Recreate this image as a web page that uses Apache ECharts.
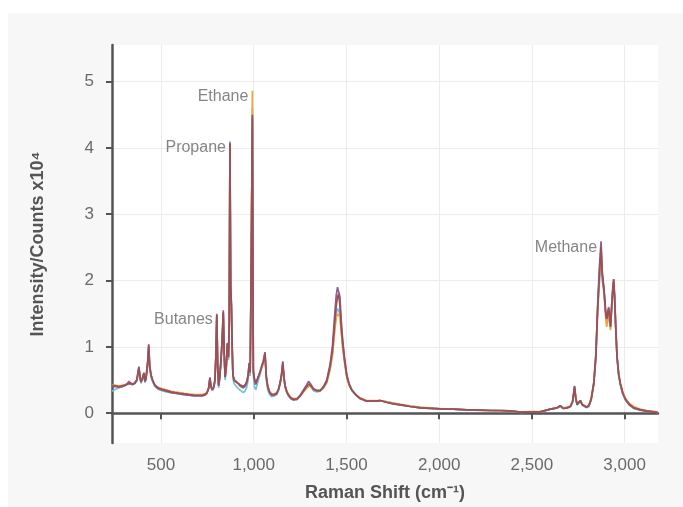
<!DOCTYPE html>
<html>
<head>
<meta charset="utf-8">
<script src="https://cdn.jsdelivr.net/npm/echarts@6/dist/echarts.min.js"></script>
<style>
html,body{margin:0;padding:0;background:#fff;}
#wrap{position:absolute;left:8px;top:13px;width:675px;height:494px;background:#f7f7f7;}
#chart{width:675px;height:494px;}
</style>
</head>
<body>
<div id="wrap"><div id="chart"></div></div>
<script>
// Raman shift (cm^-1)
const shift = [
236,255,273,290,306,318,327,336,343,352,
360,370,381,387,392,400,408,414,419,424,
429,434,439,446,455,468,485,505,530,555,
576,600,625,651,680,700,721,735,748,757,
764,770,777,785,791,796,801,806,811,817,
824,830,836,841,846,852,858,864,868,872,
876,880,884,888,895,905,917,930,944,955,
963,970,976,981,986,993,998,1004,1011,1018,
1025,1034,1043,1052,1061,1068,1076,1086,1097,1110,
1124,1134,1142,1150,1157,1163,1169,1178,1187,1200,
1214,1232,1250,1268,1286,1296,1304,1312,1322,1340,
1358,1376,1394,1412,1425,1435,1445,1452,1458,1465,
1472,1480,1490,1502,1515,1529,1550,1574,1610,1650,
1682,1720,1754,1800,1844,1900,2000,2075,2150,2220,
2276,2330,2380,2390,2440,2492,2545,2555,2600,2636,
2654,2669,2690,2708,2720,2730,2737,2744,2753,2762,
2771,2780,2795,2807,2820,2834,2845,2855,2864,2873,
2879,2885,2891,2897,2903,2909,2914,2919,2924,2930,
2936,2941,2946,2952,2959,2968,2977,2990,3004,3025,
3049,3085,3121,3150,3178];

// Intensity (counts x10^4) for each overlaid spectrum
const brown = [
.42,.41,.40,.41,.42,.44,.47,.45,.43,.44,
.45,.50,.69,.55,.47,.52,.60,.48,.52,.65,
.78,1.02,.72,.58,.50,.42,.38,.36,.34,.32,
.31,.30,.29,.28,.27,.27,.27,.28,.31,.38,
.53,.40,.36,.40,.50,.85,1.48,.70,.42,.55,
.82,1.10,1.53,.90,.55,.70,1.05,.85,1.30,4.06,
1.90,1.62,1.00,.58,.50,.48,.45,.42,.40,.43,
.48,.58,.76,.62,2.00,4.50,.65,.52,.45,.50,
.55,.62,.70,.78,.90,.55,.40,.32,.28,.28,
.30,.36,.45,.58,.76,.55,.42,.33,.28,.23,
.21,.21,.26,.33,.40,.44,.46,.40,.36,.34,
.34,.39,.48,.70,.95,1.30,1.62,1.75,1.80,1.62,
1.32,1.05,.80,.56,.43,.35,.28,.22,.18,.18,
.19,.16,.14,.12,.10,.08,.065,.06,.05,.045,
.04,.04,.035,.015,.015,.02,.02,.05,.06,.08,
.11,.07,.08,.10,.18,.40,.22,.13,.15,.19,
.13,.10,.09,.11,.21,.45,.85,1.60,2.10,2.50,
2.10,1.95,1.78,1.55,1.42,1.50,1.58,1.45,1.32,1.60,
1.85,2.00,1.75,1.30,.85,.58,.44,.30,.21,.13,
.08,.05,.03,.02,.01];

const purple = [
.40,.40,.39,.40,.42,.44,.48,.45,.43,.44,
.45,.51,.70,.55,.47,.53,.61,.48,.52,.66,
.80,1.04,.72,.58,.49,.41,.37,.35,.33,.31,
.30,.29,.28,.27,.26,.26,.26,.27,.30,.38,
.54,.40,.35,.39,.50,.86,1.50,.70,.41,.55,
.83,1.12,1.55,.90,.54,.70,1.06,.84,1.30,4.08,
1.92,1.64,1.00,.57,.49,.47,.44,.40,.38,.41,
.46,.56,.75,.61,2.02,4.45,.62,.50,.43,.49,
.55,.62,.71,.79,.92,.55,.39,.31,.27,.27,
.29,.36,.45,.58,.78,.55,.41,.32,.27,.22,
.20,.21,.27,.35,.43,.48,.51,.42,.37,.34,
.34,.40,.50,.74,1.02,1.42,1.78,1.90,1.93,1.75,
1.40,1.10,.83,.58,.44,.35,.28,.22,.18,.18,
.19,.16,.14,.12,.10,.08,.065,.06,.05,.045,
.04,.04,.035,.015,.015,.02,.02,.05,.06,.08,
.11,.07,.08,.10,.18,.41,.22,.13,.15,.19,
.13,.10,.09,.11,.21,.46,.88,1.65,2.20,2.59,
2.15,1.98,1.80,1.56,1.42,1.52,1.60,1.45,1.30,1.62,
1.88,2.02,1.76,1.30,.85,.58,.44,.30,.21,.13,
.08,.05,.03,.02,.01];

const cyan = [
.33,.36,.38,.40,.41,.43,.46,.44,.42,.43,
.44,.48,.66,.52,.45,.50,.57,.46,.50,.62,
.74,.98,.68,.55,.47,.40,.36,.34,.32,.31,
.30,.29,.28,.27,.26,.26,.26,.27,.30,.37,
.51,.38,.34,.38,.48,.82,1.45,.66,.38,.52,
.78,1.05,1.50,.84,.50,.66,1.00,.80,1.28,4.10,
1.85,1.55,.92,.52,.44,.41,.37,.34,.31,.34,
.40,.50,.70,.56,1.95,4.60,.58,.40,.35,.42,
.50,.58,.68,.76,.88,.50,.35,.28,.25,.26,
.28,.34,.43,.56,.74,.52,.39,.31,.26,.22,
.20,.20,.25,.32,.38,.41,.42,.38,.34,.32,
.33,.38,.46,.67,.90,1.22,1.50,1.58,1.60,1.50,
1.25,1.00,.78,.55,.42,.34,.27,.22,.18,.18,
.19,.17,.15,.12,.10,.08,.07,.06,.05,.04,
.04,.035,.03,.01,.01,.015,.015,.045,.06,.08,
.10,.07,.08,.10,.17,.38,.21,.12,.14,.18,
.12,.09,.08,.10,.20,.43,.82,1.52,1.95,2.30,
2.00,1.90,1.72,1.50,1.36,1.45,1.52,1.40,1.28,1.55,
1.80,1.95,1.72,1.28,.84,.57,.43,.29,.20,.12,
.07,.04,.03,.02,.01];

const orange = [
.43,.42,.41,.42,.43,.44,.46,.45,.43,.44,
.45,.49,.66,.54,.47,.51,.58,.48,.52,.63,
.75,.98,.70,.57,.50,.42,.39,.37,.35,.33,
.32,.31,.30,.29,.28,.28,.28,.29,.31,.37,
.50,.40,.36,.40,.49,.82,1.45,.68,.42,.54,
.80,1.06,1.48,.88,.55,.68,1.02,.83,1.26,4.02,
1.85,1.58,.98,.58,.50,.48,.45,.42,.40,.43,
.47,.57,.74,.61,2.10,4.86,.64,.52,.45,.50,
.55,.61,.68,.76,.86,.54,.40,.32,.29,.29,
.31,.36,.44,.56,.72,.53,.41,.33,.28,.24,
.22,.22,.26,.32,.38,.41,.42,.38,.35,.34,
.34,.38,.46,.66,.88,1.18,1.44,1.50,1.52,1.45,
1.22,.98,.76,.54,.42,.35,.28,.23,.19,.19,
.19,.17,.15,.13,.11,.09,.07,.06,.05,.045,
.04,.04,.035,.02,.02,.025,.025,.05,.06,.08,
.11,.08,.09,.11,.18,.38,.22,.14,.15,.19,
.13,.11,.10,.12,.23,.48,.90,1.62,2.05,2.42,
2.08,1.95,1.74,1.48,1.30,1.40,1.52,1.38,1.25,1.58,
1.86,2.02,1.78,1.34,.88,.60,.46,.32,.23,.15,
.10,.06,.04,.03,.02];

// Peak annotations
const peakNames = ['Butanes','Propane','Ethane','Methane'];
const peakX = [801, 872, 993, 2873];
const peakY = [1.50, 4.10, 4.86, 2.59];

// Axis ticks
const xTicks = [500,1000,1500,2000,2500,3000];
const yTicks = [0,1,2,3,4,5];

const pairs = ys => shift.map((x,i)=>[x, ys[i]]);
const spectra = [
  {name:'cyan', data:cyan, color:'#6fc4d8'},
  {name:'orange', data:orange, color:'#f2a43a'},
  {name:'purple', data:purple, color:'#8e5f90'},
  {name:'brown', data:brown, color:'#9b5057'}
];

const chart = echarts.init(document.getElementById('chart'), null, {renderer:'canvas'});
const axisCol = '#545454';
chart.setOption({
  animation:false,
  backgroundColor:'#f7f7f7',
  grid:{left:104, right:25, top:32, bottom:60, show:true, backgroundColor:'#ffffff', borderWidth:0},
  xAxis:{
    type:'value', min:236, max:3180,
    name:'Raman Shift (cm\u207B\u00B9)', nameLocation:'middle', nameGap:41,
    nameTextStyle:{fontSize:18, fontWeight:'bold', color:'#555', fontFamily:'Liberation Sans'},
    axisLine:{show:true, lineStyle:{color:axisCol, width:2.5}},
    axisTick:{show:true, length:6, customValues:xTicks, lineStyle:{color:axisCol, width:2}},
    axisLabel:{customValues:xTicks, fontSize:17, color:'#6a6a6a', margin:14, fontFamily:'Liberation Sans',
      formatter:v=>Number(v).toLocaleString('en-US')},
    splitLine:{show:true, lineStyle:{color:'#ececec', width:1}}
  },
  yAxis:{
    type:'value', min:-0.45, max:5.55,
    name:'Intensity/Counts x10\u2074', nameLocation:'middle', nameGap:65,
    nameTextStyle:{fontSize:18, fontWeight:'bold', color:'#555', fontFamily:'Liberation Sans'},
    axisLine:{show:true, lineStyle:{color:axisCol, width:2.5}},
    axisTick:{show:true, length:6, customValues:yTicks, lineStyle:{color:axisCol, width:2}},
    axisLabel:{customValues:yTicks, fontSize:17, color:'#6a6a6a', margin:18, fontFamily:'Liberation Sans'},
    splitLine:{show:true, lineStyle:{color:'#ececec', width:1}}
  },
  series: spectra.map(s=>({
    type:'line', name:s.name, data:pairs(s.data), showSymbol:false, symbol:'none',
    lineStyle:{color:s.color, width:1.7}, itemStyle:{color:s.color}, z:3
  })).concat([{
    type:'scatter', symbolSize:0, z:5, silent:true,
    data: peakNames.map((n,i)=>({name:n, value:[peakX[i], peakY[i]]})),
    label:{show:true, position:'left', distance:4, offset:[0,6], formatter:p=>p.name,
      fontSize:16, color:'#666', fontFamily:'Liberation Sans'}
  }])
});
</script>
</body>
</html>
